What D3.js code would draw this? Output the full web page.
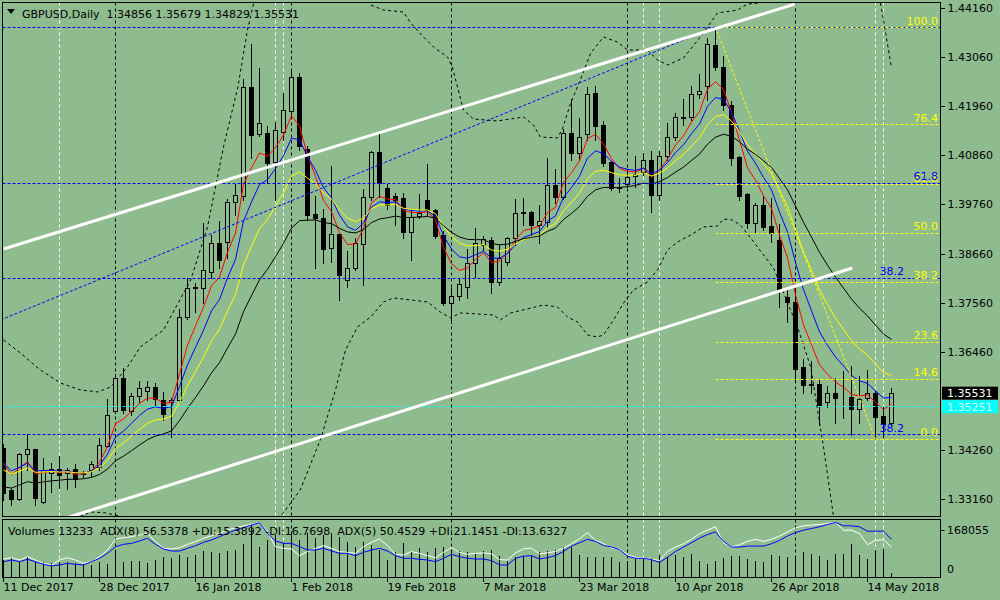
<!DOCTYPE html>
<html>
<head>
<meta charset="utf-8">
<script src="https://cdn.jsdelivr.net/npm/d3@7"></script>
<style>
  body { margin: 0; background: #8fbc8f; }
  svg { display: block; font-family: "DejaVu Sans", sans-serif; font-size: 11px; }
</style>
</head>
<body>
<script>
// GBPUSD daily candles, 11 Dec 2017 .. 17 May 2018 (one per trading day)
const opens = [
  1.34304,1.33363,1.33161,1.34169,1.34281,1.33094,1.33744,1.33833,1.33744,1.33833,
  1.33744,1.33811,1.33878,1.34349,1.35133,1.35872,1.35133,1.35469,1.35581,1.35670,
  1.35379,1.35334,1.35379,1.37238,1.37888,1.37888,1.38246,1.38896,1.38918,1.39814,
  1.39949,1.42390,1.41337,1.41360,1.40710,1.41382,1.41853,1.42614,1.41001,1.39545,
  1.39456,1.38784,1.39097,1.38067,1.38336,1.38873,1.39926,1.40934,1.40128,1.39949,
  1.39904,1.39142,1.39501,1.39859,1.39635,1.39075,1.37552,1.37709,1.37910,1.38448,
  1.38851,1.38963,1.38022,1.38470,1.39008,1.39568,1.39590,1.39299,1.39366,1.40195,
  1.39926,1.41360,1.40912,1.41337,1.42256,1.41539,1.40710,1.40150,1.40217,1.40397,
  1.40486,1.40755,1.39971,1.40845,1.41270,1.41718,1.41718,1.42233,1.42413,1.43331,
  1.42838,1.41987,1.40822,1.39993,1.39344,1.39747,1.39277,1.38963,1.37686,1.37574,
  1.36118,1.35737,1.35737,1.35334,1.35536,1.35446,1.35446,1.35177,1.35424,1.35536,
  1.35021,1.34856
];
const highs = [
  1.34416,1.33430,1.34214,1.34640,1.34290,1.34102,1.33990,1.34147,1.33878,1.33968,
  1.33811,1.34035,1.34550,1.35424,1.35984,1.36118,1.35558,1.35827,1.35827,1.35782,
  1.35581,1.35446,1.37440,1.38134,1.38022,1.39366,1.39097,1.39411,1.39904,1.40240,
  1.42592,1.43376,1.42838,1.41539,1.41629,1.42278,1.42816,1.42726,1.41091,1.39971,
  1.39680,1.40643,1.39120,1.38739,1.39030,1.40128,1.40979,1.41360,1.40240,1.40038,
  1.40038,1.39680,1.40016,1.40688,1.39680,1.39187,1.37910,1.38112,1.38784,1.39254,
  1.39075,1.39053,1.38896,1.39053,1.39904,1.39926,1.39635,1.39769,1.40822,1.40576,
  1.41472,1.42144,1.41718,1.42413,1.42435,1.41651,1.40755,1.40374,1.40576,1.40867,
  1.40934,1.40979,1.40979,1.41606,1.41830,1.42144,1.42435,1.42704,1.43510,1.43734,
  1.43107,1.42099,1.40867,1.40038,1.39814,1.39971,1.39926,1.39344,1.37910,1.37910,
  1.36320,1.36275,1.35849,1.35715,1.35894,1.36051,1.36163,1.35939,1.36073,1.35603,
  1.35267,1.35679
];
const lows = [
  1.33139,1.33027,1.33139,1.33811,1.33027,1.33072,1.33318,1.33408,1.33385,1.33430,
  1.33654,1.33654,1.33811,1.34326,1.35088,1.35088,1.35043,1.35334,1.35379,1.35267,
  1.34931,1.34550,1.35334,1.37193,1.37350,1.37552,1.38112,1.38336,1.38560,1.39523,
  1.39859,1.40800,1.41293,1.40240,1.39859,1.41203,1.41763,1.40979,1.39411,1.38336,
  1.38448,1.38470,1.37619,1.37910,1.38291,1.37955,1.39859,1.39926,1.39657,1.39299,
  1.39008,1.38515,1.39456,1.39523,1.39008,1.37507,1.37104,1.37619,1.37664,1.38134,
  1.38739,1.37776,1.37955,1.38403,1.38851,1.39299,1.39075,1.38896,1.39254,1.39792,
  1.39881,1.40755,1.40755,1.41203,1.41203,1.40621,1.40083,1.40038,1.40150,1.40150,
  1.40419,1.39590,1.39859,1.40755,1.41203,1.41539,1.41651,1.42144,1.42099,1.42771,
  1.41875,1.40643,1.39859,1.39232,1.39142,1.39187,1.38918,1.37462,1.37126,1.35827,
  1.35536,1.35536,1.34819,1.35222,1.34864,1.34976,1.34595,1.34864,1.35379,1.34505,
  1.34550,1.34829
];
const closes = [
  1.33296,1.33161,1.34169,1.34281,1.33184,1.33811,1.33833,1.33699,1.33811,1.33609,
  1.33721,1.33945,1.34371,1.35043,1.35872,1.35155,1.35469,1.35648,1.35670,1.35401,
  1.35065,1.35379,1.37238,1.37888,1.37910,1.38291,1.38896,1.38515,1.39814,1.39971,
  1.42390,1.41315,1.41584,1.40688,1.41427,1.41875,1.42614,1.41069,1.39523,1.39456,
  1.38761,1.39097,1.38179,1.38336,1.38896,1.39926,1.40934,1.40240,1.39747,1.39859,
  1.39142,1.39478,1.39568,1.39635,1.39053,1.37552,1.37709,1.37977,1.38448,1.38896,
  1.38985,1.38022,1.38560,1.39008,1.39568,1.39590,1.39299,1.39389,1.40195,1.39926,
  1.41360,1.40912,1.41270,1.42233,1.41517,1.40688,1.40128,1.40128,1.40374,1.40441,
  1.40755,1.39971,1.40845,1.41270,1.41718,1.41700,1.42233,1.42301,1.43353,1.42838,
  1.41987,1.40800,1.39949,1.39344,1.39747,1.39254,1.39120,1.37843,1.37574,1.36073,
  1.35715,1.35720,1.35267,1.35536,1.35424,1.35440,1.35177,1.35401,1.35536,1.34998,
  1.34842,1.35531
];
const volumes = [
  60790,67940,53640,71520,53640,53640,50060,53640,53640,50060,
  46490,42910,53640,46490,92980,53640,57220,57220,50060,60790,
  71520,67940,78670,71520,78670,92980,89400,85820,92980,96550,
  118010,185950,107280,132310,150190,121580,157340,132310,157340,139460,
  150190,157340,143040,125160,107280,125160,114430,96550,60790,89400,
  121580,89400,103700,89400,103700,107280,96550,92980,90000,82600,
  91200,94800,76500,58600,70400,76500,74400,88700,91200,94800,
  106900,106900,79000,70400,70400,70400,70400,52600,58600,64400,
  64400,66900,79000,70400,79000,70400,82600,58600,46500,58600,
  66900,74400,74400,64400,58600,52600,79000,74400,70400,66900,
  88700,82600,74400,62200,82600,82600,119100,79000,64400,94800,
  100800,13233
];
// ADX main lines as drawn in the volume window (white = ADX(8), blue = ADX(5))
const adx8 = [
  31.0,33.3,29.3,35.1,29.3,23.6,20.7,29.3,33.3,29.3,
  23.6,26.4,35.1,46.6,65.5,67.8,69.5,72.4,75.3,60.9,
  49.4,48.3,50.6,56.3,60.9,66.7,71.3,75.3,81.0,85.1,
  87.9,90.8,94.3,78.1,52.3,49.4,48.3,36.8,43.7,49.4,
  54.0,49.4,43.7,42.5,40.8,52.3,59.8,65.5,54.0,39.1,
  37.9,43.7,40.8,36.8,33.3,42.5,50.6,42.5,39.1,40.5,
  41.6,39.8,30.0,29.3,41.6,48.6,49.8,39.8,41.6,44.0,
  49.8,57.4,66.0,76.6,63.1,57.4,49.8,48.6,38.1,34.0,
  32.2,31.0,28.3,44.0,51.6,57.4,65.0,74.8,80.7,86.6,
  59.1,51.6,55.7,61.4,65.0,61.4,65.0,70.7,77.8,84.8,
  88.3,89.5,90.5,92.2,94.1,80.7,80.7,74.8,55.7,63.1,
  64.3,51.6
];
const adx5 = [
  26.4,29.3,26.4,30.5,26.4,21.8,19.0,20.7,23.6,21.8,
  20.7,26.4,32.2,40.8,52.3,56.3,58.0,62.1,66.7,56.3,
  48.3,44.8,44.8,49.4,54.0,59.8,63.8,69.5,75.3,81.0,
  85.1,89.7,93.7,75.3,62.1,58.0,58.0,52.3,46.6,46.6,
  49.4,44.8,40.8,40.8,36.8,42.5,46.6,49.4,44.8,36.8,
  32.2,32.2,30.5,29.3,26.4,32.2,39.1,35.1,32.2,31.0,
  31.0,28.3,20.7,20.7,32.2,35.9,36.9,31.0,33.4,36.9,
  44.0,53.3,59.1,65.0,61.4,54.5,51.6,47.4,35.9,32.2,
  32.2,30.0,25.3,34.0,44.0,51.6,59.1,67.2,73.1,77.8,
  61.4,51.6,51.6,53.3,53.3,53.3,57.4,63.1,70.7,76.6,
  80.7,83.6,86.6,90.5,94.1,88.3,88.3,86.6,79.0,79.0,
  79.0,65.0
];
// Bollinger envelope: [bar index, price]
const bandUpper = [
  [0,1.36723],[2.1,1.36432],[4.6,1.36051],[7.1,1.3576],[9.6,1.35603],[11.8,1.35558],
  [13.4,1.3567],[15.5,1.36118],[17.1,1.36566],[20,1.36947],[23.4,1.38067],[25.5,1.39254],
  [27.5,1.41046],[29.3,1.4239],[30.5,1.43667],[31.5,1.44451],[45.25,1.44406],[45.9,1.44227],
  [47.5,1.44115],[50,1.4407],[50.9,1.43824],[52.5,1.4351],[53.75,1.43286],[55.5,1.43062],
  [56.1,1.42838],[56.75,1.4239],[57.5,1.41875],[58.75,1.41673],[61.75,1.41629],[65,1.41718],
  [66.25,1.41539],[67.1,1.4127],[69.25,1.41248],[69.9,1.41472],[70.9,1.42032],[72.1,1.42547],
  [73.4,1.43152],[75,1.4351],[76.75,1.43398],[78,1.43219],[80.5,1.43219],[81.75,1.42995],
  [83,1.42883],[85,1.4304],[87.1,1.4351],[89.25,1.44048],[91.75,1.44115],[93,1.44249],
  [94.4,1.44272],[95.9,1.44563],[109,1.449],[110,1.4389],[111,1.4282]
];
const bandLower = [
  [0,1.3200],[7.1,1.32579],[10.9,1.3287],[12.75,1.32848],[15,1.32758],[18.4,1.32467],
  [30.9,1.32467],[34.6,1.32758],[37.1,1.33363],[39.6,1.34483],[41.5,1.35603],[42.75,1.36499],
  [44.25,1.37014],[45.9,1.37238],[47.5,1.37574],[48.75,1.37664],[53,1.37574],[54.6,1.3735],
  [55.9,1.37216],[57.1,1.37328],[61.25,1.37283],[62.1,1.37171],[63.4,1.37328],[67.5,1.37507],
  [69.25,1.37462],[70.5,1.37238],[71.75,1.37126],[73,1.36835],[74.25,1.3679],[75,1.36835],
  [76.25,1.37171],[77.5,1.37552],[78.75,1.37843],[80.5,1.38022],[81.75,1.38291],[83,1.38739],
  [84.25,1.38918],[85.9,1.39075],[87.5,1.39254],[89.25,1.39277],[90,1.39433],[91.1,1.39411],
  [92.1,1.39299],[93.4,1.39008],[96.25,1.38336],[99.25,1.37014],[100.9,1.36118],[102.5,1.34326],
  [104,1.32467],[105.25,1.309]
];

// moving averages (EMA of close), starting values read at the first bar
const maPeriods = [5, 8, 13, 21];
const maSeeds = [1.33968, 1.33968, 1.33811, 1.3343];
const maColors = ["#ff0000", "#0000ff", "#ffff00", "#000000"];

// drawn objects
const channelUpper = [[0, 1.38761], [99, 1.44252]];
const channelLower = [[5, 1.32572], [106.1, 1.38336]];
const blueTrend = [[-0.375, 1.37171], [89, 1.43734]];
const blueLevels = [1.43728, 1.40240, 1.38112, 1.34610];
const blueTags = ["", "61.8", "38.2", "38.2"];
const cyanLevel = 1.35251;
const fibHigh = [89, 1.43734];
const fibLow = [109, 1.34505];
const fibLevels = [100, 76.4, 61.8, 50, 38.2, 23.6, 14.6, 0];
const fibTags = ["100.0", "76.4", "61.8", "50.0", "38.2", "23.6", "14.6", "0.0"];
const monthBars = [14, 36, 56, 78, 99];
const markerBars = [7, 34, 35, 80, 82, 109, 110];

// axes
const tickBars = [0, 12, 24, 36, 48, 60, 72, 84, 96, 108];
const tickLabels = ["11 Dec 2017", "28 Dec 2017", "16 Jan 2018", "1 Feb 2018", "19 Feb 2018",
                    "7 Mar 2018", "23 Mar 2018", "10 Apr 2018", "26 Apr 2018", "14 May 2018"];
const priceTicks = [1.4416, 1.4306, 1.4196, 1.4086, 1.3976, 1.3866, 1.3756, 1.3646, 1.3426, 1.3316];
const lastPrice = 1.35531;
const volMaxLabel = 168055;

const w = 1000, h = 600;
const L = 2.5, R = 940.5, T = 2.5, B = 516.5, T2 = 519.5, B2 = 577.5;
const bg = "#8fbc8f";

const svg = d3.select("body").append("svg").attr("width", w).attr("height", h);
svg.append("rect").attr("width", w).attr("height", h).attr("fill", bg);

const x = d3.scaleLinear().domain([0, 111]).range([3.5, 891.5]);
const y = d3.scaleLinear().domain([1.3316, 1.4416]).range([499, 8]);
const vy = d3.scaleLinear().domain([0, volMaxLabel]).range([577, 530]);
const ay = d3.scaleLinear().domain([0, 100]).range([577, 519]);
const px = v => Math.round(v) + 0.5;

const defs = svg.append("defs");
defs.append("clipPath").attr("id", "cm").append("rect")
  .attr("x", L).attr("y", T).attr("width", R - L).attr("height", B - T);
defs.append("clipPath").attr("id", "cs").append("rect")
  .attr("x", L).attr("y", T2).attr("width", R - L).attr("height", B2 - T2);

const main = svg.append("g").attr("clip-path", "url(#cm)");
const sub = svg.append("g").attr("clip-path", "url(#cs)");

// vertical separators in both windows
[[main, T, B], [sub, T2, B2]].forEach(([g, t, b]) => {
  g.selectAll(null).data(monthBars).enter().append("line")
    .attr("x1", d => x(d)).attr("x2", d => x(d)).attr("y1", t).attr("y2", b)
    .attr("stroke", "#000").attr("stroke-dasharray", "3,3");
  g.selectAll(null).data(markerBars).enter().append("line")
    .attr("x1", d => x(d)).attr("x2", d => x(d)).attr("y1", t).attr("y2", b)
    .attr("stroke", "#fff").attr("stroke-dasharray", "3,3");
});

// bands
const bandLine = d3.line().x(d => x(d[0])).y(d => y(d[1]));
[bandUpper, bandLower].forEach(band => {
  main.append("path").attr("d", bandLine(band)).attr("fill", "none")
    .attr("stroke", "#000").attr("stroke-dasharray", "3,3");
});

// candles
const idx = d3.range(closes.length);
const candles = main.append("g").attr("shape-rendering", "crispEdges");
candles.selectAll("line.wick").data(idx).enter().append("line")
  .attr("x1", i => x(i)).attr("x2", i => x(i))
  .attr("y1", i => px(y(highs[i]))).attr("y2", i => px(y(lows[i])))
  .attr("stroke", "#000");
candles.selectAll("rect").data(idx).enter().append("rect")
  .attr("x", i => x(i) - 2)
  .attr("y", i => px(y(Math.max(opens[i], closes[i]))))
  .attr("width", 4)
  .attr("height", i => Math.max(0, px(y(Math.min(opens[i], closes[i]))) - px(y(Math.max(opens[i], closes[i])))))
  .attr("fill", i => closes[i] >= opens[i] ? bg : "#000")
  .attr("stroke", "#000");

// moving averages
function ema(src, period, seed) {
  const k = 2 / (period + 1);
  const out = [seed];
  for (let i = 1; i < src.length; i++) out.push(out[i - 1] + k * (src[i] - out[i - 1]));
  return out;
}
const maLine = d3.line().x((d, i) => x(i)).y(d => y(d));
maPeriods.forEach((p, j) => {
  main.append("path").attr("d", maLine(ema(closes, p, maSeeds[j])))
    .attr("fill", "none").attr("stroke", maColors[j]).attr("stroke-width", 1);
});

// horizontal objects
main.selectAll(null).data(blueLevels).enter().append("line")
  .attr("x1", L).attr("x2", R).attr("y1", d => px(y(d))).attr("y2", d => px(y(d)))
  .attr("stroke", "#0000ff").attr("stroke-dasharray", "3,2");
main.append("line").attr("x1", L).attr("x2", R)
  .attr("y1", px(y(cyanLevel))).attr("y2", px(y(cyanLevel)))
  .attr("stroke", "#00ffff").attr("stroke-dasharray", "3,2");

// fibonacci (yellow)
const fibPrice = lv => fibLow[1] + (fibHigh[1] - fibLow[1]) * lv / 100;
main.selectAll(null).data(fibLevels).enter().append("line")
  .attr("x1", x(fibHigh[0])).attr("x2", R)
  .attr("y1", d => px(y(fibPrice(d)))).attr("y2", d => px(y(fibPrice(d))))
  .attr("stroke", "#ffff00").attr("stroke-dasharray", "3,2");
main.append("line")
  .attr("x1", x(fibHigh[0])).attr("y1", y(fibHigh[1]))
  .attr("x2", x(fibLow[0])).attr("y2", y(fibLow[1]))
  .attr("stroke", "#ffff00").attr("stroke-dasharray", "3,2");

// trend lines
const segLine = d3.line().x(d => x(d[0])).y(d => y(d[1]));
main.append("path").attr("d", segLine(blueTrend)).attr("fill", "none")
  .attr("stroke", "#0000ff").attr("stroke-dasharray", "3,2");
[channelUpper, channelLower].forEach(seg => {
  main.append("path").attr("d", segLine(seg)).attr("fill", "none")
    .attr("stroke", "#fff").attr("stroke-width", 3);
});

// level texts; blue tags that would sit on a yellow tag are moved left of it
main.selectAll(null).data(fibLevels).enter().append("text")
  .attr("x", 938).attr("y", d => y(fibPrice(d)) - 2.5)
  .attr("text-anchor", "end").attr("fill", "#ffff00")
  .text((d, i) => fibTags[i]);
main.selectAll(null).data(blueLevels).enter().append("text")
  .attr("x", (d, i) => blueTags[i] === "38.2" ? 904 : 938)
  .attr("y", d => y(d) - 2.5)
  .attr("text-anchor", "end").attr("fill", "#0000ff")
  .text((d, i) => blueTags[i]);

// title
svg.append("path").attr("d", "M7,9 L15,9 L11,14 Z").attr("fill", "#000");
svg.append("text").attr("x", 22).attr("y", 17.5).attr("fill", "#000")
  .attr("xml:space", "preserve")
  .text("GBPUSD,Daily  1.34856 1.35679 1.34829 1.35531");

// volume window
sub.append("g").attr("shape-rendering", "crispEdges")
  .selectAll("line").data(idx).enter().append("line")
  .attr("x1", i => x(i)).attr("x2", i => x(i))
  .attr("y1", vy(0)).attr("y2", i => vy(volumes[i]))
  .attr("stroke", "#000");
const adxLine = d3.line().x((d, i) => x(i)).y(d => ay(d));
sub.append("path").attr("d", adxLine(adx8)).attr("fill", "none").attr("stroke", "#fff");
sub.append("path").attr("d", adxLine(adx5)).attr("fill", "none").attr("stroke", "#0000ff");
svg.append("text").attr("x", 8).attr("y", 535).attr("fill", "#000")
  .attr("xml:space", "preserve")
  .text("Volumes 13233  ADX(8) 56.5378 +DI:15.3892 -DI:16.7698  ADX(5) 50.4529 +DI:21.1451 -DI:13.6327");

// frames
const frames = svg.append("g").attr("fill", "none").attr("stroke", "#000").attr("shape-rendering", "crispEdges");
frames.append("rect").attr("x", L).attr("y", T).attr("width", R - L).attr("height", B - T);
frames.append("rect").attr("x", L).attr("y", T2).attr("width", R - L).attr("height", B2 - T2);

// price axis
const yAxis = d3.axisRight(y).tickValues(priceTicks).tickSize(4).tickPadding(3)
  .tickFormat(d3.format(".5f"));
const ga = svg.append("g").attr("transform", "translate(" + R + ",0)").call(yAxis);
ga.select(".domain").remove();
ga.selectAll("text").attr("font-family", "DejaVu Sans").attr("font-size", 11).attr("fill", "#000");
ga.selectAll("line").attr("stroke", "#000").attr("shape-rendering", "crispEdges");

// price boxes
const yl = y(lastPrice);
svg.append("rect").attr("x", 942).attr("y", yl - 6.5).attr("width", 56).attr("height", 13).attr("fill", "#000");
svg.append("text").attr("x", 947).attr("y", yl + 4).attr("fill", "#fff").text(d3.format(".5f")(lastPrice));
const yc = Math.max(y(cyanLevel) - 6.5, yl + 7);
svg.append("rect").attr("x", 942).attr("y", yc).attr("width", 56).attr("height", 13).attr("fill", "#00ffff");
svg.append("text").attr("x", 947).attr("y", yc + 10.5).attr("fill", "#d8ffff").text(d3.format(".5f")(cyanLevel));

// volume window scale
svg.append("line").attr("x1", R).attr("x2", R + 4).attr("y1", px(vy(volMaxLabel))).attr("y2", px(vy(volMaxLabel))).attr("stroke", "#000");
svg.append("text").attr("x", 947).attr("y", vy(volMaxLabel) + 4).attr("fill", "#000").text(volMaxLabel);
svg.append("text").attr("x", 947).attr("y", 573).attr("fill", "#000").text("0");

// date axis
const gd = svg.append("g");
gd.selectAll("line").data(tickBars).enter().append("line")
  .attr("x1", d => x(d)).attr("x2", d => x(d)).attr("y1", B2).attr("y2", B2 + 4)
  .attr("stroke", "#000").attr("shape-rendering", "crispEdges");
gd.selectAll("text").data(tickBars).enter().append("text")
  .attr("x", d => x(d)).attr("y", 591).attr("fill", "#000")
  .text((d, i) => tickLabels[i]);
</script>
</body>
</html>
